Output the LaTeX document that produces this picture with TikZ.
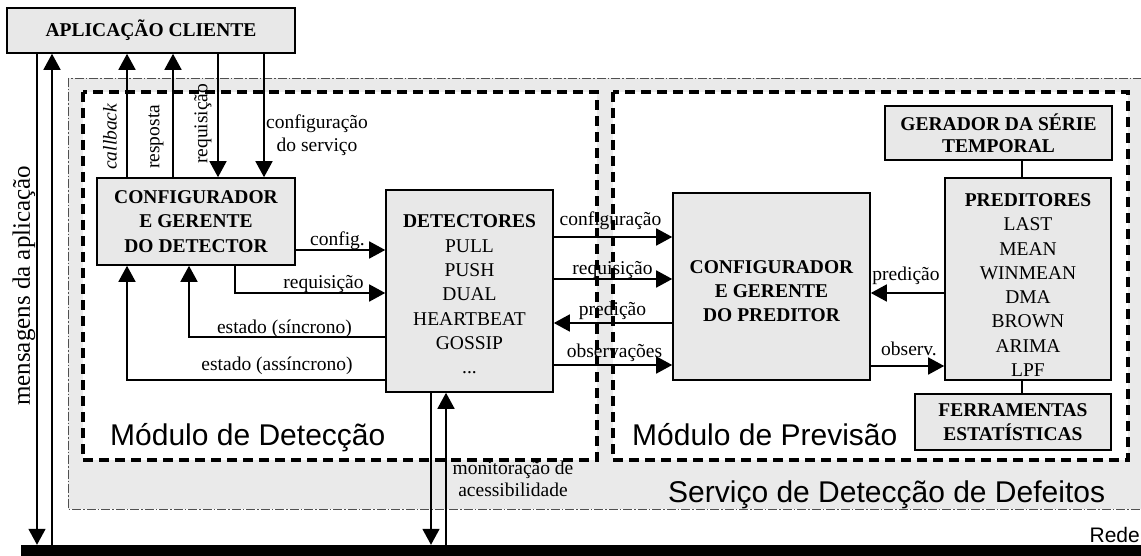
\documentclass[tikz,border=0pt]{standalone}
\usepackage{fontspec}
\setmainfont{Liberation Serif}
\newfontfamily\sansf{Liberation Sans}
\usetikzlibrary{arrows.meta}
\definecolor{boxgray}{RGB}{232,232,232}
\definecolor{svcgray}{RGB}{234,234,234}
\definecolor{dashdotc}{RGB}{80,80,80}
\begin{document}
\begin{tikzpicture}[x=1pt,y=-1pt,
  box/.style={draw, line width=1.6pt, fill=boxgray, inner sep=0pt, align=center, font=\fontsize{19.5}{24.3}\selectfont},
  boxtext/.style={inner sep=0pt, align=center, font=\fontsize{19.5}{24.3}\selectfont},
  arr/.style={line width=1.6pt, -{Triangle[length=16pt,width=17pt]}},
  plain/.style={line width=1.6pt},
  lbl/.style={inner sep=0pt, font=\fontsize{19.5}{23}\selectfont, align=center},
  modlbl/.style={inner sep=0pt, font=\sansf\fontsize{30}{34}\selectfont},
  modborder/.style={line width=3.5pt, dash pattern=on 10pt off 6pt},
]
\useasboundingbox (0,0) rectangle (1141,556);
\clip (0,0) rectangle (1141,556);

% service area
\draw[fill=svcgray, draw=dashdotc, line width=0.7pt, dash pattern=on 9pt off 2pt on 1.5pt off 2pt] (68,78) rectangle (1160,509);
\fill[white] (83,92) rectangle (597,460);
\fill[white] (613,92) rectangle (1128,460);

% boxes
\node[box, minimum width=288pt, minimum height=45pt, font=\bfseries\fontsize{19.5}{24.3}\selectfont] (app) at (151,30.5) {APLICAÇÃO CLIENTE};
\node[box, minimum width=198pt, minimum height=87pt, font=\bfseries\fontsize{19.5}{24.3}\selectfont] (cfgdet) at (196,221.5) {CONFIGURADOR\\E GERENTE\\DO DETECTOR};
\node[box, minimum width=167pt, minimum height=202pt] (det) at (469.5,291) {};
\node[boxtext] (dettext) at (469.5,294.5) {\textbf{DETECTORES}\\PULL\\PUSH\\DUAL\\HEARTBEAT\\GOSSIP\\...};
\node[box, minimum width=197pt, minimum height=187pt] (cfgpred) at (771.5,286.5) {};
\node[boxtext, font=\bfseries\fontsize{19.5}{24.3}\selectfont] (cfgpredtext) at (771.5,291) {CONFIGURADOR\\E GERENTE\\DO PREDITOR};
\node[box, minimum width=227pt, minimum height=54pt, font=\bfseries\fontsize{19.5}{22.5}\selectfont] (ger) at (998.5,133) {GERADOR DA SÉRIE\\TEMPORAL};
\node[box, minimum width=166pt, minimum height=202pt] (pred) at (1028,279) {};
\node[boxtext] (predtext) at (1028,285) {\textbf{PREDITORES}\\LAST\\MEAN\\WINMEAN\\DMA\\BROWN\\ARIMA\\LPF};
\node[box, minimum width=196pt, minimum height=56pt, font=\bfseries\fontsize{19.5}{24.5}\selectfont] (ferr) at (1013,422) {FERRAMENTAS\\ESTATÍSTICAS};
\node[fill=black, inner sep=0pt, minimum width=1130pt, minimum height=11pt] (bar) at (586,550.5) {};

% helper coordinates
\coordinate (xmsgd) at (37,0);
\coordinate (xmsgu) at (52,0);
\coordinate (xcb) at (127,0);
\coordinate (xresp) at (173,0);
\coordinate (xrq) at (218,0);
\coordinate (xcs) at (264,0);
\coordinate (xreq) at (235,0);
\coordinate (xsin) at (189,0);
\coordinate (xasin) at (127,0);
\coordinate (xmond) at (431,0);
\coordinate (xmonu) at (446,0);
\coordinate (xlink) at (1022,0);
\coordinate (yconf) at (0,250);
\coordinate (yreq) at (0,293);
\coordinate (ysin) at (0,337);
\coordinate (yasin) at (0,380);
\coordinate (ycfg2) at (0,237);
\coordinate (yreq2) at (0,279);
\coordinate (ypred2) at (0,323);
\coordinate (yobs2) at (0,365);
\coordinate (ypred3) at (0,293);
\coordinate (yobs3) at (0,366);

% connectors: client
\draw[arr] (app.south -| xmsgd) -- (bar.north -| xmsgd);
\draw[arr] (bar.north -| xmsgu) -- (app.south -| xmsgu);
\draw[arr] (cfgdet.north -| xcb) -- (app.south -| xcb);
\draw[arr] (cfgdet.north -| xresp) -- (app.south -| xresp);
\draw[arr] (app.south -| xrq) -- (cfgdet.north -| xrq);
\draw[arr] (app.south -| xcs) -- (cfgdet.north -| xcs);

% detection module
\draw[arr] (cfgdet.east |- yconf) -- (det.west |- yconf);
\draw[arr] (cfgdet.south -| xreq) |- (det.west |- yreq);
\draw[arr] (det.west |- ysin) -| (cfgdet.south -| xsin);
\draw[arr] (det.west |- yasin) -| (cfgdet.south -| xasin);

% monitoring
\draw[arr] (det.south -| xmond) -- (bar.north -| xmond);
\draw[arr] (bar.north -| xmonu) -- (det.south -| xmonu);

% between modules
\draw[arr] (det.east |- ycfg2) -- (cfgpred.west |- ycfg2);
\draw[arr] (det.east |- yreq2) -- (cfgpred.west |- yreq2);
\draw[arr] (cfgpred.west |- ypred2) -- (det.east |- ypred2);
\draw[arr] (det.east |- yobs2) -- (cfgpred.west |- yobs2);

% prediction module
\draw[arr] (pred.west |- ypred3) -- (cfgpred.east |- ypred3);
\draw[arr] (cfgpred.east |- yobs3) -- (pred.west |- yobs3);
\draw[plain] (ger.south -| xlink) -- (pred.north -| xlink);
\draw[plain] (pred.south -| xlink) -- (ferr.north -| xlink);

% labels
\node[lbl, rotate=90, anchor=west, font=\fontsize{25}{30}\selectfont] (lmsg) at (24,406) {mensagens da aplicação};
\node[lbl, rotate=90, anchor=west, font=\itshape\fontsize{19.5}{23}\selectfont] (lcb) at (110,170) {callback};
\node[lbl, rotate=90, anchor=west] (lresp) at (156,169) {resposta};
\node[lbl, rotate=90, anchor=west] (lrq) at (203,164) {requisição};
\node[lbl] (lcs) at (317,135) {configuração\\do serviço};
\node[lbl] (lconf) at (337.5,241) {config.};
\node[lbl] (lreq) at (323.5,284) {requisição};
\node[lbl] (lsin) at (284.5,329) {estado (síncrono)};
\node[lbl] (lasin) at (277,366) {estado (assíncrono)};
\node[lbl] (lcfg2) at (610.5,221) {configuração};
\node[lbl] (lreq2) at (612.5,270) {requisição};
\node[lbl] (lpred2) at (612.5,311) {predição};
\node[lbl] (lobs2) at (614.5,353) {observações};
\node[lbl] (lpred3) at (906,276) {predição};
\node[lbl] (lobs3) at (909,349) {observ.};
\node[lbl, font=\fontsize{19.5}{22}\selectfont] (lmon) at (513,479) {monitoração de\\acessibilidade};
\node[modlbl, anchor=base west] (lmdet) at (110,445) {Módulo de Detecção};
\node[modlbl, anchor=base west] (lmprev) at (632,445) {Módulo de Previsão};
\node[modlbl, anchor=base west] (lsvc) at (668,502) {Serviço de Detecção de Defeitos};
\node[inner sep=0pt, anchor=base east, font=\sansf\fontsize{21}{24}\selectfont] (lrede) at (1140,542) {Rede};

% module borders
\draw[modborder] (83,92) rectangle (597,460);
\draw[modborder] (613,92) rectangle (1128,460);
\end{tikzpicture}
\end{document}
